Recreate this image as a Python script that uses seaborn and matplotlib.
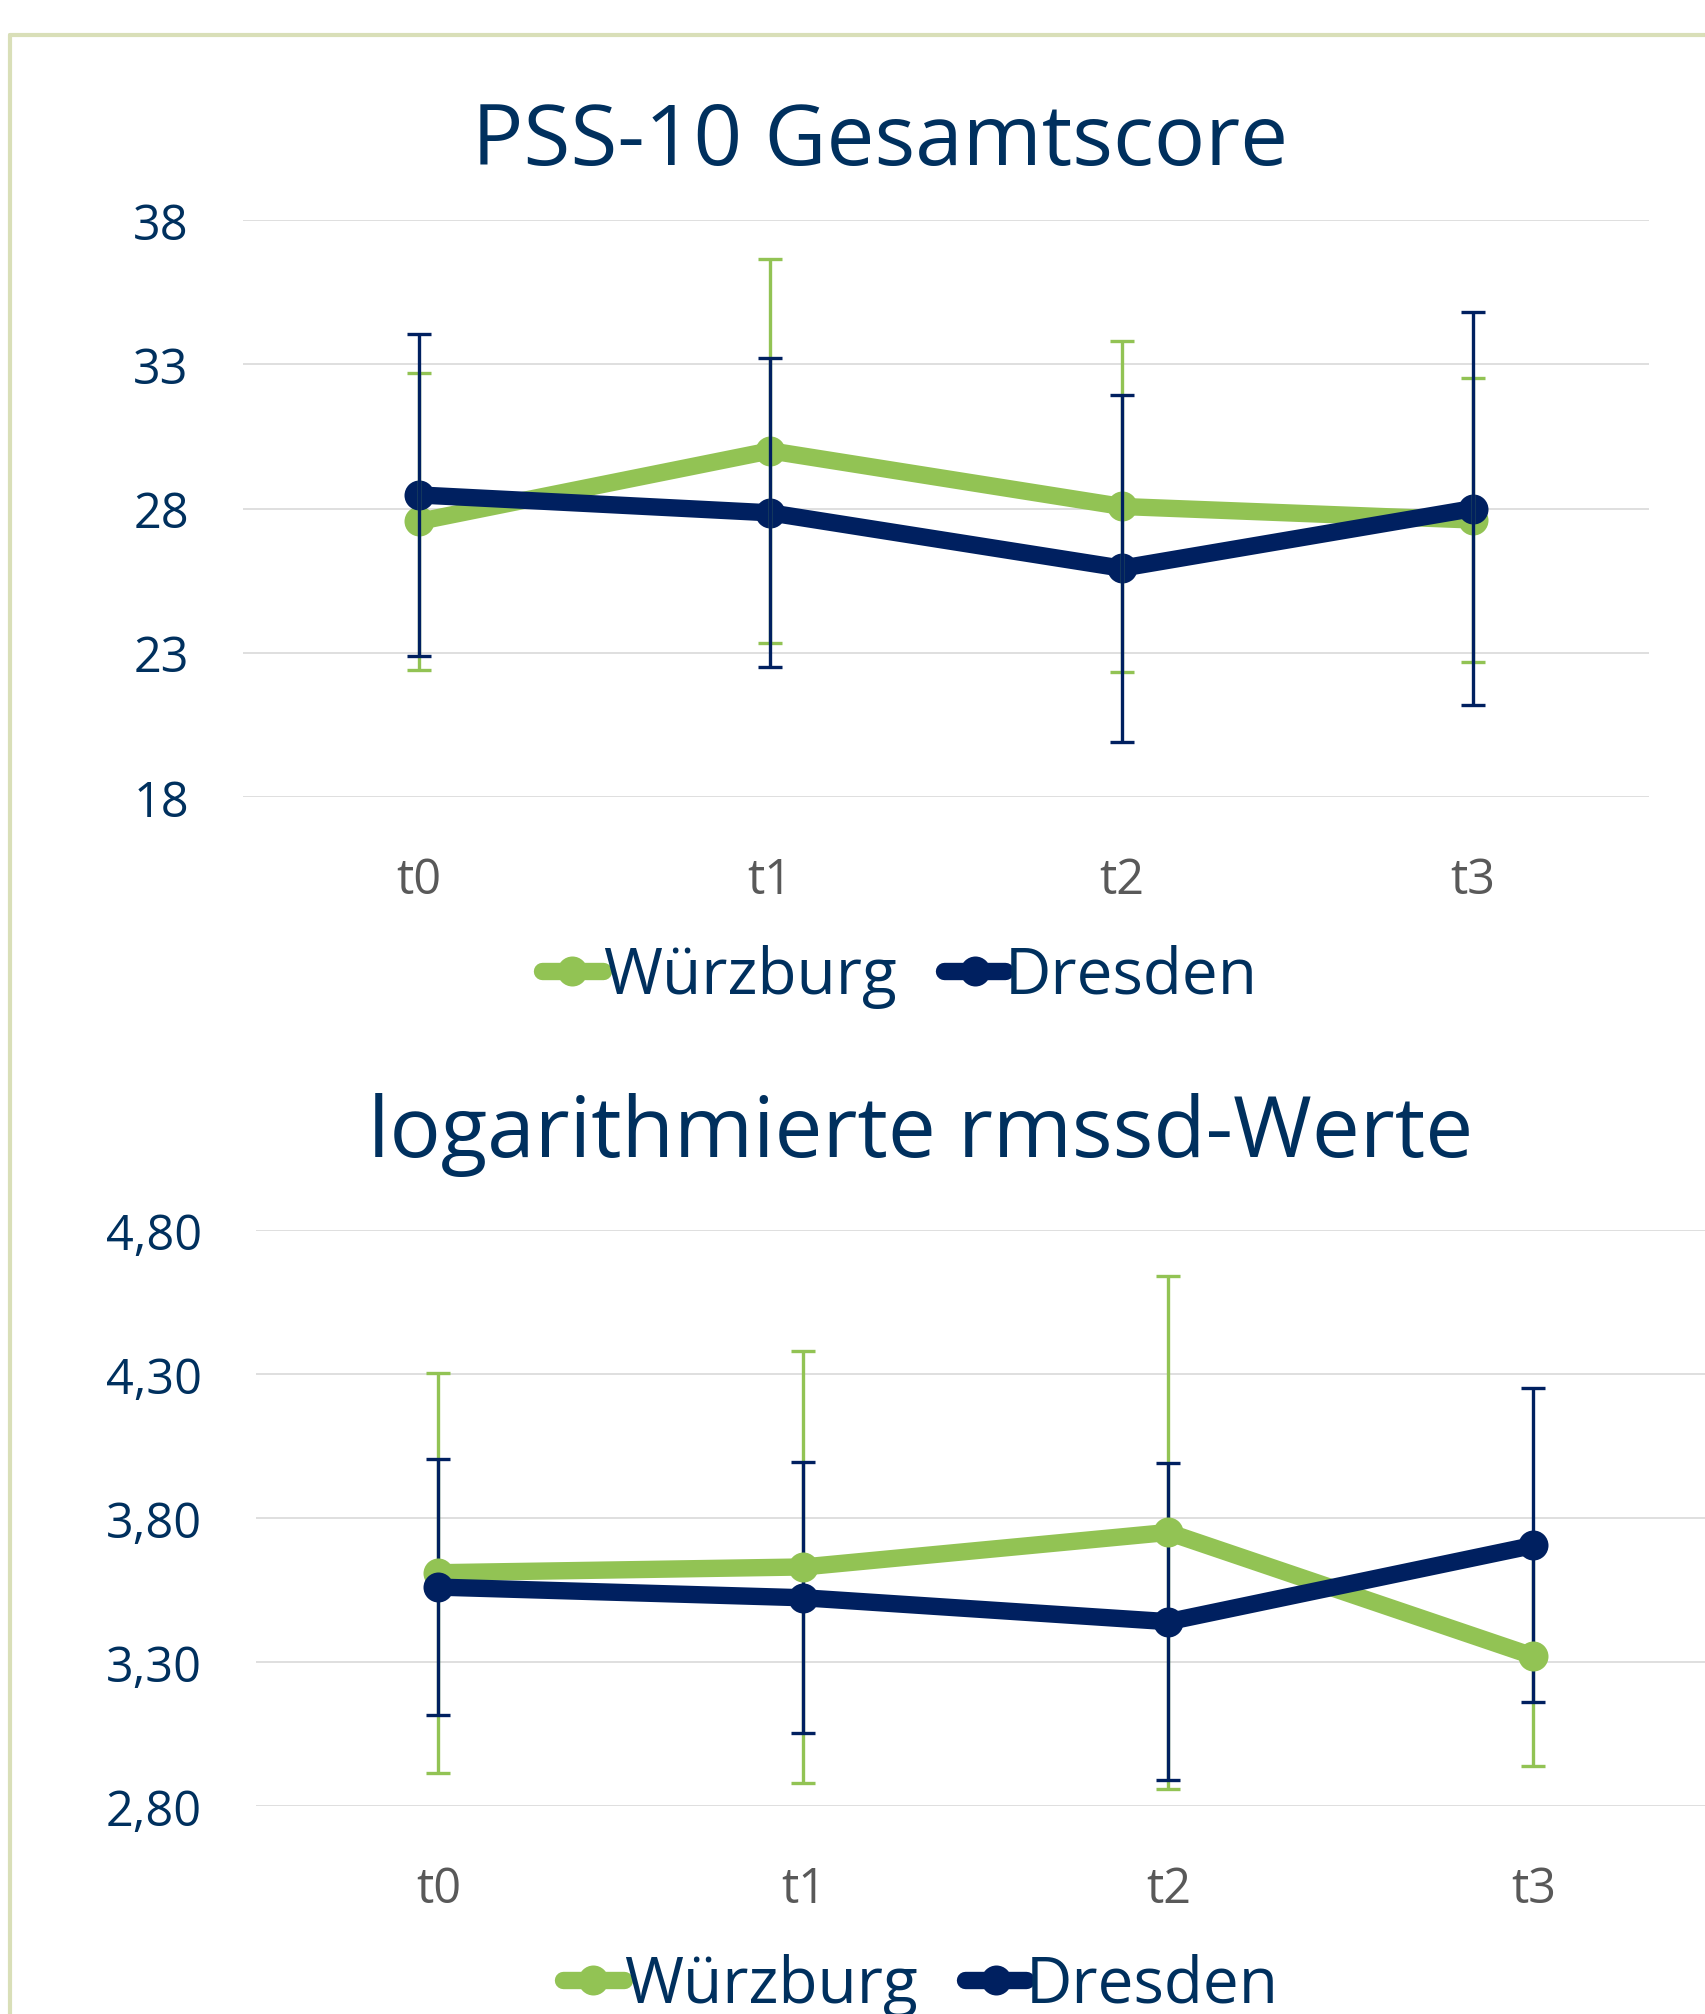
import matplotlib
matplotlib.use("Agg")
import matplotlib.pyplot as plt
from matplotlib.lines import Line2D
import numpy as np
import pandas as pd
import seaborn as sns

# ---------------- data ----------------
zeitpunkte = ["t0", "t1", "t2", "t3"]
standorte = ["Würzburg", "Dresden"]

pss_wuerzburg = [27.55, 30.0, 28.07, 27.6]
pss_wuerzburg_sd = [5.15, 6.65, 5.72, 4.92]
pss_dresden = [28.47, 27.85, 25.93, 28.0]
pss_dresden_sd = [5.57, 5.35, 6.02, 6.8]

rmssd_wuerzburg = [3.61, 3.63, 3.75, 3.32]
rmssd_wuerzburg_sd = [0.695, 0.75, 0.89, 0.38]
rmssd_dresden = [3.56, 3.523, 3.44, 3.705]
rmssd_dresden_sd = [0.445, 0.47, 0.55, 0.545]

pss_ticks = [18, 23, 28, 33, 38]
pss_ticklabels = ["18", "23", "28", "33", "38"]
rmssd_ticks = [2.80, 3.30, 3.80, 4.30, 4.80]
rmssd_ticklabels = ["2,80", "3,30", "3,80", "4,30", "4,80"]

title_pss = "PSS-10 Gesamtscore"
title_rmssd = "logarithmierte rmssd-Werte"

# ---------------- style ----------------
GREEN = "#92C354"
NAVY = "#002060"
TEXT_NAVY = "#00305E"
GRAY = "#595959"
GRID = "#D9D9D9"
FRAME = "#D9DFB8"

sns.set_theme(style="white")
plt.rcParams["font.family"] = ["Open Sans", "DejaVu Sans"]

W, H = 1706, 2015
fig = plt.figure(figsize=(W / 100, H / 100), dpi=100)
fig.patch.set_facecolor("white")

palette = {"Würzburg": GREEN, "Dresden": NAVY}

LW = 12.5
MS = 21.6
ELW = 2.4
CAP = 8.6


def make_df(w, d):
    rows = []
    for name, vals in (("Würzburg", w), ("Dresden", d)):
        for z, v in zip(zeitpunkte, vals):
            rows.append({"Zeitpunkt": z, "Mittelwert": v, "Standort": name})
    return pd.DataFrame(rows)


def draw_panel(ax, w, wsd, d, dsd, ticks, ticklabels, ylim, err_z):
    df = make_df(w, d)
    sns.lineplot(data=df, x="Zeitpunkt", y="Mittelwert", hue="Standort",
                 hue_order=standorte, palette=palette, marker="o",
                 markersize=MS, markeredgewidth=0, linewidth=LW,
                 sort=False, legend=False, ax=ax,
                 solid_joinstyle="round", solid_capstyle="round")
    for i, line in enumerate(ax.get_lines()):
        line.set_zorder(3 + i)
    x = np.arange(len(zeitpunkte))
    ax.errorbar(x, w, yerr=wsd, fmt="none", ecolor=GREEN, elinewidth=ELW,
                capsize=CAP, capthick=ELW, zorder=err_z)
    ax.errorbar(x, d, yerr=dsd, fmt="none", ecolor=NAVY, elinewidth=ELW,
                capsize=CAP, capthick=ELW, zorder=err_z + 0.5)
    ax.set_xlim(-0.5, len(zeitpunkte) - 0.5)
    ax.set_ylim(*ylim)
    ax.set_yticks(ticks)
    ax.set_yticklabels(ticklabels)
    ax.set_xticks(x)
    ax.set_xticklabels(zeitpunkte)
    ax.set_xlabel("")
    ax.set_ylabel("")
    for s in ax.spines.values():
        s.set_visible(False)
    ax.grid(axis="y", color=GRID, linewidth=1.2, zorder=0)
    ax.grid(axis="x", visible=False)
    ax.set_axisbelow(True)
    ax.tick_params(axis="y", length=0, pad=39, labelsize=35, labelcolor=TEXT_NAVY)
    ax.tick_params(axis="x", length=0, pad=42, labelsize=35, labelcolor=GRAY)
    ax.set_facecolor("none")


def add_legend(ax, cx, cy):
    handles = [
        Line2D([], [], color=GREEN, lw=LW, marker="o", ms=MS, mew=0,
               solid_capstyle="round"),
        Line2D([], [], color=NAVY, lw=LW, marker="o", ms=MS, mew=0,
               solid_capstyle="round"),
    ]
    leg = ax.legend(handles, standorte, loc="center",
                    bbox_to_anchor=(cx / W, 1 - cy / H),
                    bbox_transform=fig.transFigure, ncol=2, frameon=False,
                    fontsize=46, handlelength=0.95, handletextpad=0.0,
                    columnspacing=0.75, numpoints=1, borderpad=0)
    for t in leg.get_texts():
        t.set_color(TEXT_NAVY)


# top panel: x 243..1649, y 221..798
ax1 = fig.add_axes([243 / W, 1 - 798 / H, (1649 - 243) / W, (798 - 221) / H])
draw_panel(ax1, pss_wuerzburg, pss_wuerzburg_sd, pss_dresden, pss_dresden_sd,
           pss_ticks, pss_ticklabels, (18, 38), err_z=6)
add_legend(ax1, 900, 977)

# bottom panel: x 256..1716, y 1231..1807
ax2 = fig.add_axes([256 / W, 1 - 1807 / H, (1716 - 256) / W, (1807 - 1231) / H])
draw_panel(ax2, rmssd_wuerzburg, rmssd_wuerzburg_sd, rmssd_dresden, rmssd_dresden_sd,
           rmssd_ticks, rmssd_ticklabels, (2.80, 4.80), err_z=1)
add_legend(ax2, 921, 1986)

# titles
fig.text(880 / W, 1 - 165 / H, title_pss, ha="center", va="baseline",
         fontsize=61.5, color=TEXT_NAVY)
fig.text(921 / W, 1 - 1157 / H, title_rmssd, ha="center", va="baseline",
         fontsize=61.5, color=TEXT_NAVY)

# chart frame (cropped chart-area border)
fig.add_artist(Line2D([10 / W, 1.0], [1 - 36 / H, 1 - 36 / H], color=FRAME,
                      lw=3, transform=fig.transFigure))
fig.add_artist(Line2D([10 / W, 10 / W], [1 - 36 / H, 0.0], color=FRAME,
                      lw=3, transform=fig.transFigure))

fig.savefig("out.png", dpi=100, facecolor="white")
